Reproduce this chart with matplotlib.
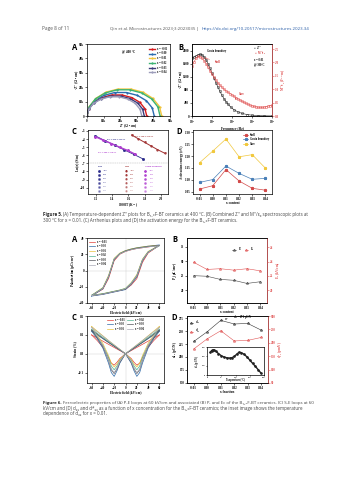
import matplotlib
matplotlib.use("Agg")
import numpy as np
import matplotlib.pyplot as plt

W, H = 353, 480
plt.rcParams.update({
    "font.family": ["Liberation Serif", "DejaVu Serif"],
    "font.weight": "bold",
    "axes.labelweight": "bold",
    "axes.linewidth": 0.5,
    "xtick.labelsize": 2.3, "ytick.labelsize": 2.3,
    "xtick.major.size": 1.2, "ytick.major.size": 1.2,
    "xtick.major.width": 0.4, "ytick.major.width": 0.4,
    "xtick.major.pad": 0.8, "ytick.major.pad": 0.8,
    "mathtext.fontset": "custom",
    "mathtext.rm": "Liberation Serif",
    "mathtext.it": "Liberation Serif:italic",
    "mathtext.bf": "Liberation Serif:bold",
})
SANS = ["Open Sans", "DejaVu Sans"]
LAB = 2.4

comps = ["-0.01", "0.00", "0.01", "0.02", "0.03", "0.04"]
comp_x = [-0.01, 0.00, 0.01, 0.02, 0.03, 0.04]

# Fig 5A: Nyquist arcs at 400 C (k ohm cm)
nyq_x = [
    [0, 1.1, 4.2, 9.0, 14.9, 21.1, 27.0, 31.8, 34.9, 36.0],
    [0, 1.2, 4.7, 10.1, 16.7, 23.8, 30.4, 35.8, 39.3, 40.5],
    [0, 1.4, 5.3, 11.3, 18.6, 26.4, 33.8, 39.7, 43.7, 45.0],
    [0, 1.3, 5.1, 11.0, 18.2, 25.8, 33.0, 38.9, 42.7, 44.0],
    [0, 1.0, 4.0, 8.6, 14.2, 20.3, 25.9, 30.5, 33.5, 34.5],
    [0, 1.0, 3.9, 8.3, 13.6, 19.4, 24.8, 29.1, 32.0, 33.0],
]
nyq_y = [
    [0, 5.1, 9.5, 12.8, 14.6, 14.6, 12.8, 9.5, 5.1, 0],
    [0, 5.6, 10.6, 14.3, 16.3, 16.3, 14.3, 10.6, 5.6, 0],
    [0, 6.5, 12.2, 16.5, 18.7, 18.7, 16.5, 12.2, 6.5, 0],
    [0, 6.3, 11.9, 16.0, 18.2, 18.2, 16.0, 11.9, 6.3, 0],
    [0, 4.8, 9.0, 12.1, 13.8, 13.8, 12.1, 9.0, 4.8, 0],
    [0, 4.6, 8.7, 11.7, 13.3, 13.3, 11.7, 8.7, 4.6, 0],
]
nyq_colors = ["#d7191c", "#2b6cb0", "#f2c53d", "#3cb371", "#3a3a7a", "#9c9cba"]

# Fig 5B: spectroscopic plots, x = 0.01 at 300 C
logf_z = [1.0, 1.1, 1.2, 1.3, 1.4, 1.5, 1.6, 1.7, 1.8, 1.9, 2.0, 2.1, 2.2, 2.3,
          2.4, 2.5, 2.6, 2.7, 2.8, 2.95, 3.1, 3.3, 3.5, 3.75, 4.0, 4.3, 4.6, 5.0]
z_imag = [1770, 1800, 1835, 1870, 1890, 1870, 1810, 1720, 1600, 1460, 1310, 1160,
          1010, 880, 750, 630, 530, 440, 360, 265, 190, 125, 80, 45, 25, 12, 6, 3]
logf_m = [1.0, 1.1, 1.2, 1.3, 1.4, 1.5, 1.6, 1.7, 1.8, 1.9, 2.0, 2.1, 2.2, 2.3,
          2.4, 2.5, 2.6, 2.7, 2.8, 2.9, 3.0, 3.1, 3.2, 3.3, 3.4, 3.5, 3.6, 3.7,
          3.8, 3.9, 4.0, 4.1, 4.2, 4.3, 4.4, 4.5, 4.6, 4.7, 4.8, 4.9, 5.0]
m_imag = [1.86, 2.02, 2.15, 2.23, 2.22, 2.16, 2.07, 1.96, 1.82, 1.68, 1.56, 1.45,
          1.34, 1.24, 1.15, 1.07, 1.00, 0.94, 0.89, 0.84, 0.79, 0.74, 0.69, 0.64,
          0.60, 0.55, 0.51, 0.47, 0.44, 0.41, 0.38, 0.36, 0.34, 0.33, 0.32, 0.32,
          0.33, 0.35, 0.37, 0.39, 0.41]

# Fig 5C: Arrhenius plots (1000/T, ln sigma)
arr_shell_x = [1.19, 1.31, 1.43, 1.55, 1.67, 1.78]
arr_shell_y = [-3.6, -4.2, -4.75, -5.35, -5.9, -6.45]
arr_gb_x = [1.19, 1.29, 1.39, 1.49, 1.59, 1.68]
arr_gb_y = [-3.7, -4.15, -4.55, -5.0, -5.4, -5.85]
arr_core_x = [1.64, 1.72, 1.80, 1.88, 1.96, 2.05]
arr_core_y = [-3.5, -3.95, -4.4, -4.85, -5.3, -5.75]

# Fig 5D: activation energies (eV)
ea_shell = [1.061, 1.075, 1.143, 1.095, 1.064, 1.056]
ea_gb = [1.089, 1.101, 1.158, 1.127, 1.102, 1.106]
ea_core = [1.172, 1.221, 1.272, 1.197, 1.206, 1.149]

# Fig 6A: P-E loops
pe_e = [-60, -40, -30, -20, -10, 0, 10, 20, 30, 40, 60]
pe_up = [
    [-31, -23, -10, 12, 20, 23.5, 25.5, 27, 28, 29, 31],
    [-31.5, -22.5, -8, 13.5, 21, 24.5, 26.5, 28, 29, 30, 31.5],
    [-30.5, -21, -6, 15, 21.5, 24.5, 26.5, 28, 29, 30, 31],
    [-30.5, -21.5, -7, 14.5, 21, 24, 26, 27.5, 28.5, 29.5, 30.5],
    [-31, -22, -8, 13.5, 20.5, 24, 26, 27.5, 28.5, 29.5, 31],
    [-31, -22, -7.5, 14, 20.5, 23.5, 25.5, 27, 28, 29, 30.5],
]
pe_down = [
    [-31, -29, -27.5, -26, -24.5, -23, -18, -10, 10, 21.5, 31],
    [-31.5, -29.5, -28, -26.5, -25, -23.5, -17, -8, 12, 22.5, 31.5],
    [-30.5, -28.5, -27, -25.5, -24, -22, -15, -5, 14, 23.5, 31],
    [-30.5, -28.5, -27, -25.5, -24, -22, -15.5, -6, 13.5, 23, 30.5],
    [-31, -29, -27.5, -26, -24.5, -23, -16.5, -7, 12.5, 22.5, 31],
    [-31, -29, -27.5, -26, -24.5, -22.5, -16, -6.5, 13, 22.5, 30.5],
]
loop_colors = ["#e0413a", "#2f6aa8", "#e9c23e", "#4fb28f", "#55565e", "#a9a9b6"]

# Fig 6B: Pr and Ec
pr_vals = [25.0, 24.8, 23.7, 23.4, 22.3, 22.9]
ec_vals = [23.9, 22.9, 23.0, 22.8, 23.0, 22.7]

# Fig 6C: S-E butterfly loops
se_e_desc = [-60, -50, -40, -30, -25, -20, -15, -10, 0, 30, 60]
se_e_asc = [-60, -30, 0, 10, 15, 20, 25, 30, 40, 50, 60]
se_desc = [
    [0.100, 0.070, 0.035, -0.020, -0.050, -0.060, -0.045, -0.025, 0.0, 0.050, 0.100],
    [0.120, 0.080, 0.030, -0.050, -0.100, -0.120, -0.090, -0.050, 0.0, 0.060, 0.120],
    [0.145, 0.100, 0.055, -0.010, -0.050, -0.070, -0.055, -0.030, 0.0, 0.070, 0.145],
    [0.130, 0.090, 0.045, -0.020, -0.065, -0.085, -0.065, -0.035, 0.0, 0.065, 0.130],
    [0.125, 0.085, 0.040, -0.035, -0.085, -0.105, -0.080, -0.045, 0.0, 0.060, 0.125],
    [0.140, 0.095, 0.045, -0.030, -0.080, -0.100, -0.075, -0.040, 0.0, 0.070, 0.140],
]
se_asc = [
    [0.100, 0.050, 0.0, -0.025, -0.045, -0.060, -0.050, -0.020, 0.035, 0.070, 0.100],
    [0.120, 0.060, 0.0, -0.050, -0.090, -0.120, -0.100, -0.050, 0.030, 0.080, 0.120],
    [0.145, 0.070, 0.0, -0.030, -0.055, -0.070, -0.050, -0.010, 0.055, 0.100, 0.145],
    [0.130, 0.065, 0.0, -0.035, -0.065, -0.085, -0.065, -0.020, 0.045, 0.090, 0.130],
    [0.125, 0.060, 0.0, -0.045, -0.080, -0.105, -0.085, -0.035, 0.040, 0.085, 0.125],
    [0.140, 0.070, 0.0, -0.040, -0.075, -0.100, -0.080, -0.030, 0.045, 0.095, 0.140],
]

# Fig 6D: d33 and d*33, inset d33 vs temperature
d33_vals = [230, 249, 271, 264, 265, 252]
d33s_vals = [177, 215, 245, 207, 209, 220]
inset_t = [12, 16, 21, 26, 32, 40, 50, 60, 70, 80, 88, 96, 104, 112, 120, 130,
           140, 150, 160, 170, 180, 190]
inset_d = [243, 262, 271, 266, 252, 230, 207, 192, 184, 181, 186, 200, 222, 243,
           240, 222, 195, 160, 125, 92, 55, 18]


def box(x0, y0, x1, y1):
    return [x0 / W, 1 - y1 / H, (x1 - x0) / W, (y1 - y0) / H]


def letter(x, y, s):
    fig.text(x / W, 1 - y / H, s, family=SANS, weight="bold", fontsize=5.5,
             ha="left", va="center")


def page_line(y, body, head=None, x0=43, x1=None, fs=3.0, color="#444444",
              limit=None):
    """One line of page text (optional bold head + body).  With x1 the font size
    is scaled so the line ends at x1, kept within +-limit of fs if given."""
    r = fig.canvas.get_renderer()
    base = fs
    ht = None
    if head:
        ht = fig.text(x0 / W, 1 - y / H, head, family=SANS, weight="bold",
                      fontsize=fs, color="#222222", va="baseline")
    bt = fig.text(x0 / W, 1 - y / H, body, family=SANS, weight="normal",
                  fontsize=fs, color=color, va="baseline")
    if x1 is not None:
        for _ in range(3):
            hw = ht.get_window_extent(r).width + 0.3 * fs * 100 / 72 if ht else 0
            bw = bt.get_window_extent(r).width
            fs = fs * (x1 - x0) / (hw + bw)
            if limit is not None:
                fs = min(max(fs, base * (1 - limit)), base * (1 + limit))
            for t in (ht, bt):
                if t is not None:
                    t.set_fontsize(fs)
    hw = ht.get_window_extent(r).width + 0.3 * fs * 100 / 72 if ht else 0
    bt.set_x((x0 + hw) / W)
    return fs


fig = plt.figure(figsize=(W / 100, H / 100), dpi=100)

# page header
page_line(30, "Page 8 of 11", x0=42, x1=69, color="#555555")
page_line(30, "Qin et al. Microstructures 2023;3:2023035 |", x0=110, x1=197,
          color="#555555")
page_line(30, "https://dx.doi.org/10.20517/microstructures.2023.34", x0=202, x1=310,
          color="#2a5ea8")

# ---- Figure 5A
ax = fig.add_axes(box(87, 44, 170, 116))
for xs, ys, c, lab in zip(nyq_x, nyq_y, nyq_colors, comps):
    ax.plot(xs, ys, "-o", color=c, lw=1.0, ms=1.2, mew=0.3, label=f"x = {lab}")
ax.set_xlim(0, 50)
ax.set_ylim(0, 50)
ax.set_xticks([0, 10, 20, 30, 40, 50])
ax.set_xticklabels(["0", "10k", "20k", "30k", "40k", "50k"])
ax.set_yticks([0, 10, 20, 30, 40, 50])
ax.set_yticklabels(["0", "10k", "20k", "30k", "40k", "50k"])
ax.set_xlabel("Z' (Ω • cm)", fontsize=LAB, labelpad=0.5)
ax.set_ylabel("-Z'' (Ω • cm)", fontsize=LAB, labelpad=0.5)
ax.legend(loc="upper right", fontsize=2.0, frameon=False, handlelength=2.2,
          labelspacing=0.25, borderaxespad=0.6)
ax.text(0.42, 0.88, "@ 400 °C", transform=ax.transAxes, fontsize=2.3)
letter(72, 48, "A")

# ---- Figure 5B
ax = fig.add_axes(box(192, 44, 272, 116))
ax.plot(np.power(10.0, logf_z), z_imag, "-o", color="#222222", lw=0.4, ms=1.7,
        mfc="none", mew=0.35)
ax.set_xscale("log")
ax.set_xlim(10, 1e5)
ax.set_ylim(0, 2200)
ax.set_yticks([0, 400, 800, 1200, 1600, 2000])
ax.set_xlabel("Frequency (Hz)", fontsize=LAB, labelpad=0.5)
ax.set_ylabel("-Z'' (Ω • m)", fontsize=LAB, labelpad=0.5)
ax.minorticks_off()
axr = ax.twinx()
axr.plot(np.power(10.0, logf_m), m_imag, "-o", color="#e05555", lw=0.4, ms=1.7,
         mfc="none", mew=0.35)
axr.set_ylim(0, 2.69)
axr.set_yticks([0, 0.5, 1.0, 1.5, 2.0, 2.5])
axr.tick_params(colors="#e05555", labelsize=2.3)
axr.spines["right"].set_color("#e05555")
axr.set_ylabel("M''/ε$_0$ (F$^{-1}$·m)", fontsize=LAB, color="#e05555", labelpad=0.8)
ax.annotate("Grain boundary", xy=(20, 1870), xytext=(56, 1990), fontsize=2.0,
            arrowprops=dict(arrowstyle="-", lw=0.3, color="k"), va="center")
axr.annotate("Shell", xy=(32, 2.2), xytext=(140, 2.02), fontsize=2.0, color="#d03030",
             arrowprops=dict(arrowstyle="->", lw=0.3, color="#d03030", mutation_scale=2),
             va="center")
axr.annotate("Core", xy=(1400, 0.62), xytext=(2200, 0.82), fontsize=2.0, color="#d03030",
             arrowprops=dict(arrowstyle="->", lw=0.3, color="#d03030", mutation_scale=2),
             va="center")
ax.text(0.78, 0.93, "○  Z''", transform=ax.transAxes, fontsize=2.0)
ax.text(0.78, 0.86, "○  M''/ε$_0$", transform=ax.transAxes, fontsize=2.0, color="#d03030")
ax.text(0.78, 0.76, "x = 0.01", transform=ax.transAxes, fontsize=2.0)
ax.text(0.78, 0.69, "@ 300°C", transform=ax.transAxes, fontsize=2.0)
letter(178, 48, "B")

# ---- Figure 5C
ax = fig.add_axes(box(88, 130, 168, 194))
ax.plot(arr_shell_x, arr_shell_y, "-s", color="#2a2a8a", lw=0.6, ms=1.0)
ax.plot(arr_gb_x, arr_gb_y, "-D", color="#b040d0", lw=1.0, ms=1.0)
ax.plot(arr_core_x, arr_core_y, "-v", color="#a03030", lw=0.7, ms=1.0)
ax.axhline(-6.9, color="#aaaaaa", lw=0.3, ls="--")
ax.set_xlim(1.1, 2.09)
ax.set_ylim(-10.78, -2.88)
ax.set_xticks([1.2, 1.4, 1.6, 1.8, 2.0])
ax.set_yticks([-3, -4, -5, -6, -7, -8, -9, -10])
ax.set_xlabel("1000/T (K$^{-1}$)", fontsize=LAB, labelpad=0.5)
ax.set_ylabel("Ln(σ) (S/m)", fontsize=LAB, labelpad=0.5)
ax.text(1.33, -4.1, "Ea: 1.056-1.143 eV", fontsize=1.6, color="#2a2a8a", va="center")
ax.text(1.68, -3.7, "Ea: 1.149-1.272 eV", fontsize=1.6, color="#a03030", va="center")
ax.text(1.22, -5.7, "Ea: 1.089-1.158 eV", fontsize=1.6, color="#b040d0", va="center")
col_x = [1.225, 1.557, 1.80]
heads = ["Shell", "Core", "Grain boundary"]
head_cols = ["#2a2a8a", "#a03030", "#b040d0"]
marks = ["s", "v", "D"]
for cx, hd, hc, mk in zip(col_x, heads, head_cols, marks):
    ax.text(cx, -7.38, hd, fontsize=1.7, color=hc, va="center")
    for k, lab in enumerate(comps):
        yy = -7.91 - 0.49 * k
        ax.plot([cx + 0.01], [yy], marker=mk, color=hc, ms=0.9, alpha=1 - 0.12 * k)
        ax.text(cx + 0.06, yy, lab, fontsize=1.5, color=hc, va="center",
                alpha=1 - 0.12 * k)
letter(72, 132, "C")

# ---- Figure 5D
ax = fig.add_axes(box(193, 130, 272, 194))
ax.plot(comp_x, ea_shell, "-*", color="#d24a4a", lw=0.5, ms=2.0, label="Shell")
ax.plot(comp_x, ea_gb, "-*", color="#4a80b8", lw=0.5, ms=2.0, label="Grain boundary")
ax.plot(comp_x, ea_core, "-*", color="#f1c83d", lw=0.5, ms=2.0, label="Core")
ax.set_xlim(-0.015, 0.045)
ax.set_ylim(1.04, 1.31)
ax.set_xticks(comp_x)
ax.set_xticklabels(comps)
ax.set_yticks([1.05, 1.10, 1.15, 1.20, 1.25, 1.30])
ax.set_xlabel("x content", fontsize=LAB, labelpad=0.5)
ax.set_ylabel("Activation energy (eV)", fontsize=LAB, labelpad=0.5)
ax.legend(loc="upper right", fontsize=2.0, frameon=False, handlelength=1.8,
          labelspacing=0.2)
letter(176, 132, "D")

# caption 5 (plain unicode sub/superscripts, no mathtext)
fs_cap = page_line(216, "(A) Temperature-dependent Z'' plots for B₁₊ₓF-BT ceramics "
                   "at 400 °C. (B) Combined Z'' and M''/ε₀ spectroscopic plots at",
                   head="Figure 5.", x1=310)
page_line(222, "300 °C for x = 0.01. (C) Arrhenius plots and (D) the activation energy "
          "for the B₁₊ₓF-BT ceramics.", fs=fs_cap)

# ---- Figure 6A
ax = fig.add_axes(box(87, 238, 164, 303))
ax.axhline(0, color="#cccccc", lw=0.3)
ax.axvline(0, color="#cccccc", lw=0.3)
for up, dn, c, lab in zip(pe_up, pe_down, loop_colors, comps):
    ax.plot(pe_e + pe_e[::-1], dn + up[::-1], color=c, lw=0.5, label=f"x = {lab}")
ax.set_xlim(-68, 68)
ax.set_ylim(-40, 40)
ax.set_xticks([-60, -40, -20, 0, 20, 40, 60])
ax.set_yticks([-40, -20, 0, 20, 40])
ax.set_xlabel("Electric field (kV/cm)", fontsize=LAB, labelpad=0.5)
ax.set_ylabel("Polarization (μC/cm$^2$)", fontsize=LAB, labelpad=0.5)
ax.legend(loc="upper left", fontsize=1.9, frameon=False, handlelength=2.2,
          labelspacing=0.2, borderaxespad=0.3)
letter(72, 240, "A")

# ---- Figure 6B
ax = fig.add_axes(box(187, 238, 267, 303))
ax.plot(comp_x, pr_vals, "-*", color="#444444", lw=0.4, ms=2.0, mfc="none",
        mew=0.4, label="P$_r$")
ax.set_xlim(-0.015, 0.045)
ax.set_ylim(15.5, 38.1)
ax.set_xticks(comp_x)
ax.set_xticklabels(comps)
ax.set_yticks([20, 25, 30, 35])
ax.set_xlabel("x content", fontsize=LAB, labelpad=0.5)
ax.set_ylabel("P$_r$ (μC/cm$^2$)", fontsize=LAB, labelpad=0.5)
axr = ax.twinx()
axr.plot(comp_x, ec_vals, "-*", color="#e05555", lw=0.4, ms=2.0, mfc="none",
         mew=0.4, label="E$_c$")
axr.set_ylim(18.2, 27.3)
axr.set_yticks([20, 22, 24, 26])
axr.tick_params(colors="#e05555", labelsize=2.3)
axr.spines["right"].set_color("#e05555")
axr.set_ylabel("E$_c$ (kV/cm)", fontsize=LAB, color="#e05555", labelpad=0.8)
h1, l1 = ax.get_legend_handles_labels()
h2, l2 = axr.get_legend_handles_labels()
axr.legend(h1 + h2, l1 + l2, loc="upper right", ncol=2, fontsize=2.0, frameon=False,
           handlelength=1.2, columnspacing=0.8, bbox_to_anchor=(0.88, 0.92))
letter(172, 240, "B")

# ---- Figure 6C
ax = fig.add_axes(box(87, 316, 164, 383))
ax.axhline(0, color="#cccccc", lw=0.3)
ax.axvline(0, color="#cccccc", lw=0.3)
for dsc, asc, c, lab in zip(se_desc, se_asc, loop_colors, comps):
    ax.plot(se_e_desc, dsc, color=c, lw=0.5, label=f"x = {lab}")
    ax.plot(se_e_asc, asc, color=c, lw=0.5)
ax.set_xlim(-68, 68)
ax.set_ylim(-0.155, 0.2)
ax.set_xticks([-60, -40, -20, 0, 20, 40, 60])
ax.set_yticks([-0.1, 0.0, 0.1, 0.2])
ax.set_xlabel("Electric field (kV/cm)", fontsize=LAB, labelpad=0.5)
ax.set_ylabel("Strain (%)", fontsize=LAB, labelpad=0.5)
ax.legend(loc="upper center", ncol=2, fontsize=1.9, frameon=False, handlelength=2.2,
          labelspacing=0.2, columnspacing=1.0, borderaxespad=0.3)
letter(72, 318, "C")

# ---- Figure 6D
ax = fig.add_axes(box(187, 316, 268, 383))
ax.plot(comp_x, d33_vals, "-*", color="#333333", lw=0.4, ms=2.0, mfc="none",
        mew=0.4, label="d$_{33}$")
ax.set_xlim(-0.015, 0.045)
ax.set_ylim(149.4, 279.5)
ax.set_xticks(comp_x)
ax.set_xticklabels(comps)
ax.set_yticks([150, 175, 200, 225, 250, 275])
ax.set_xlabel("x fraction", fontsize=LAB, labelpad=0.5)
ax.set_ylabel("d$_{33}$ (pC/N)", fontsize=LAB, labelpad=0.5)
ax.annotate("d$_{33}$ = 271 pC/N", xy=(0.011, 273), xytext=(0.019, 277),
            fontsize=2.0, va="center",
            arrowprops=dict(arrowstyle="->", lw=0.3, mutation_scale=2))
axr = ax.twinx()
axr.plot(comp_x, d33s_vals, "-*", color="#e05555", lw=0.4, ms=2.0, mfc="none",
         mew=0.4, label="d$^*_{33}$")
axr.set_ylim(50, 300)
axr.set_yticks([50, 100, 150, 200, 250, 300])
axr.tick_params(colors="#e05555", labelsize=2.3)
axr.spines["right"].set_color("#e05555")
axr.set_ylabel("d$^*_{33}$ (pm/V)", fontsize=LAB, color="#e05555", labelpad=0.8)
h1, l1 = ax.get_legend_handles_labels()
h2, l2 = axr.get_legend_handles_labels()
axr.legend(h1 + h2, l1 + l2, loc="upper left", fontsize=2.0, frameon=False,
           handlelength=1.2, labelspacing=0.3)
ins = fig.add_axes(box(207, 347, 264, 375))
ins.plot(inset_t, inset_d, "-o", color="#222222", lw=1.0, ms=0.9)
ins.set_xlim(0, 200)
ins.set_ylim(0, 300)
ins.set_xticks([0, 50, 100, 150, 200])
ins.set_yticks([0, 100, 200, 300])
ins.tick_params(labelsize=1.6, length=0.8, pad=0.5)
ins.set_xlabel("Temperature (°C)", fontsize=1.8, labelpad=0.3)
ins.set_ylabel("d$_{33}$ (pC/N)", fontsize=1.8, labelpad=0.3)
letter(171, 318, "D")

# caption 6
page_line(404, "Ferroelectric properties of (A) P-E loops at 60 kV/cm and associated "
          "(B) Pᵣ and Ec of the B₁₊ₓF-BT ceramics. (C) S-E loops at 60",
          head="Figure 6.", x1=310, fs=fs_cap, limit=0.08)
page_line(409.7, "kV/cm and (D) d₃₃ and d*₃₃ as a function of x concentration "
          "for the B₁₊ₓF-BT ceramics; the inset image shows the temperature",
          x1=310, fs=fs_cap, limit=0.08)
page_line(415.4, "dependence of d₃₃ for x = 0.01.", fs=fs_cap)

fig.savefig("out.png", dpi=100)
